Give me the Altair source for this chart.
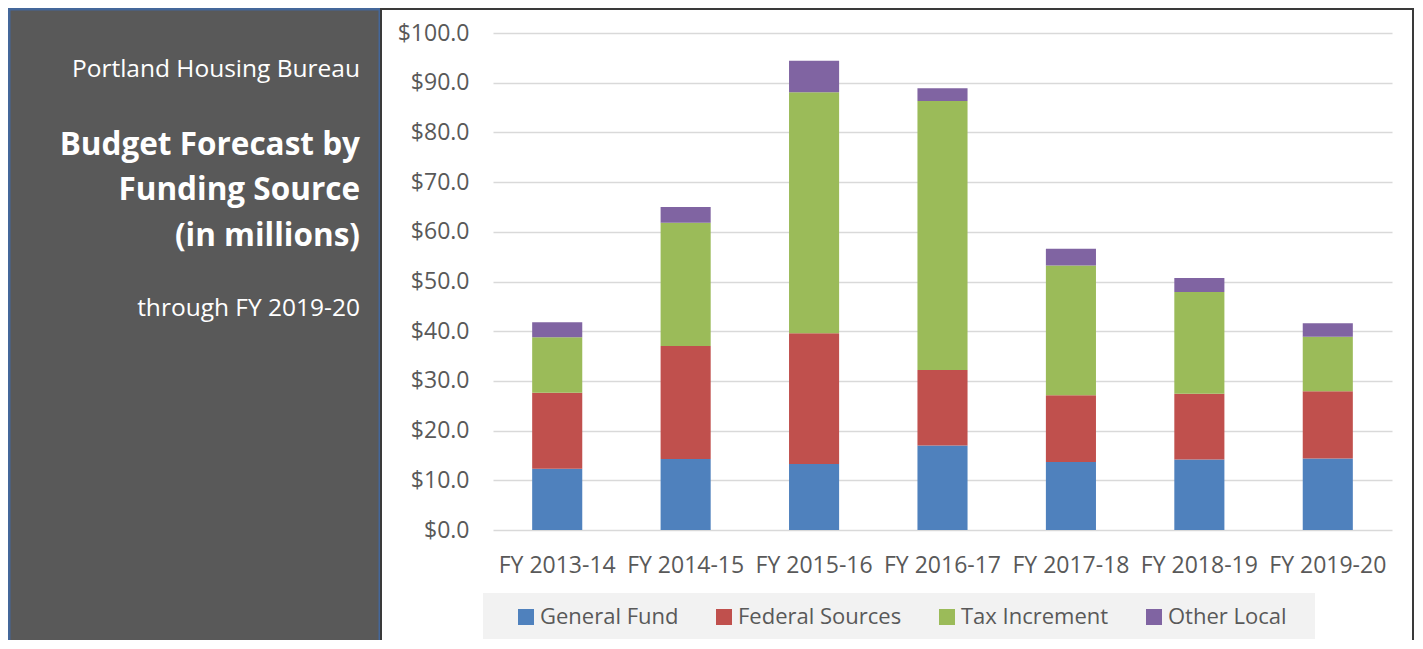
import altair as alt
import pandas as pd

years = ["FY 2013-14", "FY 2014-15", "FY 2015-16", "FY 2016-17",
         "FY 2017-18", "FY 2018-19", "FY 2019-20"]
sources = ["General Fund", "Federal Sources", "Tax Increment", "Other Local"]
general_fund = [12.3, 14.3, 13.3, 17.0, 13.7, 14.2, 14.4]
federal_sources = [15.3, 22.7, 26.3, 15.2, 13.4, 13.2, 13.5]
tax_increment = [11.2, 24.8, 48.5, 54.1, 26.1, 20.5, 11.0]
other_local = [3.0, 3.2, 6.3, 2.6, 3.4, 2.8, 2.7]
colors = ["#4F81BD", "#C0504D", "#9BBB59", "#8064A2"]
y_ticks = [0, 10, 20, 30, 40, 50, 60, 70, 80, 90, 100]

org_line = "Portland Housing Bureau"
title_lines = ["Budget Forecast by", "Funding Source", "(in millions)"]
sub_line = "through FY 2019-20"

rows = []
series = [general_fund, federal_sources, tax_increment, other_local]
for i, yr in enumerate(years):
    for k, src in enumerate(sources):
        rows.append({"year": yr, "source": src, "value": series[k][i], "order": k})
df = pd.DataFrame(rows)

W, H = 899, 497
one = pd.DataFrame({"d": [0]})
TXT = "#595959"

left_panel = alt.Chart(one).mark_rect(
    fill="#595959", stroke="#44679A", strokeWidth=3
).encode(x=alt.value(-484), x2=alt.value(-113), y=alt.value(-24), y2=alt.value(640))

right_border = alt.Chart(one).mark_rect(
    fillOpacity=0, stroke="#3A3A3A", strokeWidth=2
).encode(x=alt.value(-112), x2=alt.value(920), y=alt.value(-24), y2=alt.value(640))

legend_bg = alt.Chart(one).mark_rect(fill="#F2F2F2").encode(
    x=alt.value(-10), x2=alt.value(822), y=alt.value(560), y2=alt.value(606))

bars = alt.Chart(df).mark_bar().encode(
    x=alt.X("year:N", sort=years,
            scale=alt.Scale(paddingInner=0.61, paddingOuter=0.305),
            axis=alt.Axis(title=None, labelAngle=0, domain=False, ticks=False,
                          labelPadding=24, labelFontSize=23, labelColor=TXT,
                          labelFont="Open Sans", grid=False)),
    y=alt.Y("value:Q", stack="zero", scale=alt.Scale(domain=[0, 100], nice=False),
            axis=alt.Axis(title=None, values=y_ticks, format="$.1f", domain=False,
                          ticks=False, labelPadding=24, grid=True,
                          gridColor="#D9D9D9", gridWidth=1.3, labelFontSize=23,
                          labelColor=TXT, labelFont="Open Sans")),
    color=alt.Color("source:N", scale=alt.Scale(domain=sources, range=colors),
                    legend=alt.Legend(title=None, orient="none", legendX=22,
                                      legendY=573, direction="horizontal",
                                      symbolType="square", symbolSize=256,
                                      symbolStrokeWidth=0, labelFontSize=22,
                                      labelFont="Open Sans", labelColor=TXT,
                                      labelOffset=3, columnPadding=34,
                                      labelLimit=400, padding=0)),
    order=alt.Order("order:Q", sort="ascending"),
)

org_text = alt.Chart(pd.DataFrame({"t": [org_line]})).mark_text(
    align="right", baseline="alphabetic", font="Open Sans", fontSize=24.5, color="white"
).encode(text="t:N", x=alt.value(-133), y=alt.value(44))

title_layers = []
title_ys = [122, 167, 213]
for i, line in enumerate(title_lines):
    title_layers.append(
        alt.Chart(pd.DataFrame({"t": [line]})).mark_text(
            align="right", baseline="alphabetic", font="Open Sans", fontSize=31.5,
            fontWeight="bold", color="white"
        ).encode(text="t:N", x=alt.value(-133), y=alt.value(title_ys[i]))
    )

sub_text = alt.Chart(pd.DataFrame({"t": [sub_line]})).mark_text(
    align="right", baseline="alphabetic", font="Open Sans", fontSize=24.5, color="white"
).encode(text="t:N", x=alt.value(-133), y=alt.value(283))

chart = alt.layer(
    left_panel, right_border, legend_bg, bars, org_text, *title_layers, sub_text
).properties(
    width=W, height=H, autosize="none",
    padding={"left": 485, "top": 25, "right": 22, "bottom": 110},
    background="white",
).configure(font="Open Sans").configure_view(strokeWidth=0, strokeOpacity=0)

chart.save("out.html", embed_options={"renderer": "svg", "actions": False})
